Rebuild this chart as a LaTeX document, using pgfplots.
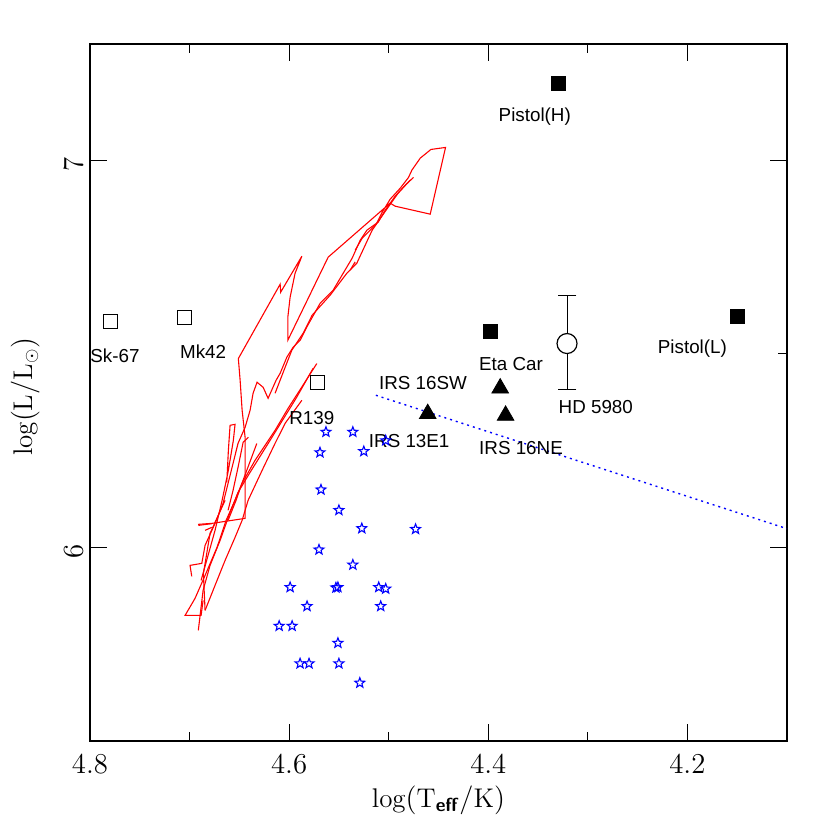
\documentclass[border=0pt]{standalone}
\usepackage{amsmath}
\usepackage{fontspec}
\usepackage{pgfplots}
\pgfplotsset{compat=1.18}
\newfontfamily\lab{Liberation Sans}
\tikzset{lab/.style={font=\lab\fontsize{9.4}{11}\selectfont, inner sep=0pt}}

% open five-pointed star
\pgfdeclareplotmark{ostar}{%
  \pgfpathmoveto{\pgfpointpolar{90}{\pgfplotmarksize}}%
  \pgfpathlineto{\pgfpointpolar{126}{0.42\pgfplotmarksize}}%
  \pgfpathlineto{\pgfpointpolar{162}{\pgfplotmarksize}}%
  \pgfpathlineto{\pgfpointpolar{198}{0.42\pgfplotmarksize}}%
  \pgfpathlineto{\pgfpointpolar{234}{\pgfplotmarksize}}%
  \pgfpathlineto{\pgfpointpolar{270}{0.42\pgfplotmarksize}}%
  \pgfpathlineto{\pgfpointpolar{306}{\pgfplotmarksize}}%
  \pgfpathlineto{\pgfpointpolar{342}{0.42\pgfplotmarksize}}%
  \pgfpathlineto{\pgfpointpolar{18}{\pgfplotmarksize}}%
  \pgfpathlineto{\pgfpointpolar{54}{0.42\pgfplotmarksize}}%
  \pgfpathclose\pgfusepathqstroke}

\begin{document}
\begin{tikzpicture}
\begin{axis}[
    width=348.5pt, height=348.5pt, scale only axis,
    x dir=reverse, xmin=4.1, xmax=4.8, ymin=5.5, ymax=7.3,
    xtick={4.2,4.4,4.6,4.8}, minor xtick={4.3,4.5,4.7},
    ytick={6,7},
    extra y ticks={6.5}, extra y tick labels={},
    extra y tick style={major tick length=4.3pt, ytick pos=right},
    tick align=inside, major tick length=8.5pt, minor tick length=4.3pt,
    axis line style={line width=0.6pt},
    every tick/.style={black, line width=0.6pt},
    tick label style={font=\fontsize{13.5}{16}\selectfont},
    xticklabel style={yshift=-3.5pt},
    yticklabel style={rotate=90, xshift=-2pt},
    label style={font=\fontsize{13.5}{16}\selectfont},
    xlabel={$\log(\mathrm{T}_{\textsf{\textbf{eff}}}/\mathrm{K})$},
    ylabel={$\log(\mathrm{L}/\mathrm{L}_\odot)$},
    xlabel style={at={(axis description cs:0.5,-0.085)}, anchor=center},
    ylabel style={at={(axis description cs:-0.093,0.494)}, anchor=center},
    clip=false,
]
% evolutionary tracks
\addplot[red, line width=0.55pt] coordinates {(4.6915,6.0594)(4.6774,6.0620)(4.6442,6.0749)(4.6442,6.2842)(4.6472,6.3540)(4.6492,6.4315)(4.6510,6.4876)(4.6090,6.6796)(4.6085,6.6589)(4.5872,6.7519)(4.5940,6.7080)(4.5990,6.6460)(4.6013,6.5943)(4.6013,6.5349)(4.5608,6.7494)(4.5055,6.8734)(4.4985,6.8889)(4.4935,6.8811)(4.4583,6.8605)(4.4429,7.0328)(4.4576,7.0276)(4.4683,7.0052)(4.4767,6.9742)(4.4801,6.9553)(4.4884,6.9276)(4.4985,6.8992)(4.5065,6.8656)(4.5126,6.8346)(4.5266,6.7984)(4.5337,6.7674)};
\addplot[red, line width=0.55pt] coordinates {(4.4751,6.9553)(4.4834,6.9354)(4.4935,6.9070)(4.5035,6.8708)(4.5106,6.8398)(4.5219,6.8191)(4.5286,6.7933)(4.5367,6.7468)(4.5457,6.7080)(4.5558,6.6641)(4.5688,6.6305)(4.5822,6.5693)(4.5889,6.5349)(4.5960,6.5168)(4.6023,6.4910)(4.6090,6.4496)(4.6131,6.4315)(4.6211,6.3850)(4.6261,6.4134)(4.6322,6.4264)(4.6362,6.3979)(4.6392,6.3540)(4.6442,6.3101)(4.6513,6.2687)(4.6563,6.2171)(4.6613,6.1654)(4.6663,6.1137)(4.6744,6.0620)(4.6844,6.0052)(4.6877,5.9587)(4.6995,5.9535)(4.6978,5.9251)};
\addplot[red, line width=0.55pt] coordinates {(4.4784,6.9483)(4.4905,6.9147)(4.5005,6.8786)(4.5166,6.8191)(4.5320,6.7339)(4.5420,6.7080)(4.5588,6.6512)(4.5769,6.5995)(4.5859,6.5530)(4.5973,6.5090)(4.6040,6.4651)(4.6141,6.3979)};
\addplot[red, line width=0.55pt] coordinates {(4.5387,6.7158)(4.5337,6.7372)};
\addplot[red, line width=0.55pt] coordinates {(4.5722,6.4747)(4.5872,6.4142)(4.6010,6.3592)(4.6141,6.3023)(4.6342,6.2248)(4.6475,6.1646)(4.6543,6.1214)(4.6633,6.0698)(4.6724,6.0000)(4.6844,5.9276)(4.6945,5.8682)(4.7045,5.8243)(4.6884,5.8243)(4.6864,5.8630)};
\addplot[red, line width=0.55pt] coordinates {(4.5759,6.4625)(4.5930,6.3850)(4.6191,6.2765)(4.6392,6.1938)(4.6513,6.1421)(4.6593,6.0904)(4.6693,6.0181)(4.6794,5.9535)(4.6864,5.8889)(4.6912,5.7855)};
\addplot[red, line width=0.55pt] coordinates {(4.5872,6.3798)(4.6040,6.3204)(4.6141,6.2687)(4.6271,6.1990)(4.6412,6.1214)(4.6472,6.0698)(4.6543,6.0258)(4.6643,5.9664)(4.6744,5.9018)(4.6844,5.8372)};
\addplot[red, line width=0.55pt] coordinates {(4.6626,6.1680)(4.6610,6.2506)(4.6593,6.3152)(4.6543,6.3178)(4.6560,6.2765)(4.6610,6.1990)(4.6673,6.1214)(4.6744,6.0439)(4.6814,5.9793)(4.6884,5.9147)};
\addplot[red, line width=0.55pt] coordinates {(4.6325,6.2680)(4.6475,6.1646)(4.6533,6.1214)(4.6613,6.0698)};
\addplot[red, line width=0.55pt] coordinates {(4.6409,6.2842)(4.6462,6.2713)(4.6513,6.2067)(4.6563,6.1473)(4.6613,6.0956)};
\addplot[red, line width=0.55pt] coordinates {(4.6643,6.1214)(4.6794,6.0362)(4.6861,5.9320)(4.6844,5.8372)};
\addplot[red, line width=0.55pt] coordinates {(4.6912,6.0568)(4.6777,6.0612)};
\addplot[red, line width=0.55pt] coordinates {(4.6844,6.0439)(4.6777,6.0517)};
% dotted boundary
\addplot[blue, line width=0.7pt, dash pattern=on 1pt off 2pt] coordinates {(4.5129,6.3928)(4.1,6.0483)};
% cluster stars
\addplot[blue, only marks, mark=ostar, mark size=2.6pt, mark options={line width=0.55pt}] coordinates {
(4.563,6.298)(4.536,6.298)(4.569,6.245)(4.525,6.248)(4.503,6.276)
(4.568,6.149)(4.550,6.096)(4.527,6.049)(4.473,6.047)(4.570,5.994)
(4.536,5.955)(4.599,5.897)(4.553,5.896)(4.551,5.897)(4.510,5.897)
(4.503,5.893)(4.582,5.848)(4.508,5.848)(4.610,5.797)(4.597,5.797)
(4.551,5.753)(4.589,5.700)(4.580,5.700)(4.550,5.700)(4.529,5.650)};
% LBVs and others
\addplot[black, only marks, mark=square, mark size=3.5pt, mark options={line width=0.6pt}] coordinates {(4.7792,6.5832)(4.7050,6.5943)(4.5717,6.4258)};
\addplot[black, only marks, mark=square*, mark size=3.5pt] coordinates {(4.3297,7.1972)(4.3978,6.5587)(4.1500,6.5974)};
\addplot[black, only marks, mark=triangle*, mark size=4.8pt] coordinates {(4.388,6.411)(4.4608,6.345)(4.3826,6.3406)};
% HD 5980 with its luminosity range
\addplot[black, line width=0.5pt] coordinates {(4.3209,6.4083)(4.3209,6.6512)};
\addplot[black, line width=0.5pt] coordinates {(4.3114,6.6512)(4.3304,6.6512)};
\addplot[black, line width=0.5pt] coordinates {(4.3114,6.4083)(4.3304,6.4083)};
\addplot[black, only marks, mark=*, mark size=5pt, mark options={fill=white, line width=0.6pt}] coordinates {(4.3209,6.5264)};
% labels
\node[lab] at (axis cs:4.7749,6.4943) {Sk-67};
\node[lab] at (axis cs:4.6864,6.5052) {Mk42};
\node[lab] at (axis cs:4.5772,6.3346) {R139};
\node[lab] at (axis cs:4.3533,7.1124) {Pistol(H)};
\node[lab] at (axis cs:4.1950,6.5129) {Pistol(L)};
\node[lab] at (axis cs:4.3771,6.4747) {Eta Car};
\node[lab] at (axis cs:4.2920,6.3630) {HD 5980};
\node[lab] at (axis cs:4.4655,6.4251) {IRS 16SW};
\node[lab] at (axis cs:4.4794,6.2744) {IRS 13E1};
\node[lab] at (axis cs:4.3671,6.2563) {IRS 16NE};
\coordinate (bl) at (rel axis cs:-0.1291,-0.1277);
\coordinate (tr) at (rel axis cs:1.0617,1.0631);
\end{axis}
\path (bl) rectangle (tr);
\end{tikzpicture}
\end{document}
